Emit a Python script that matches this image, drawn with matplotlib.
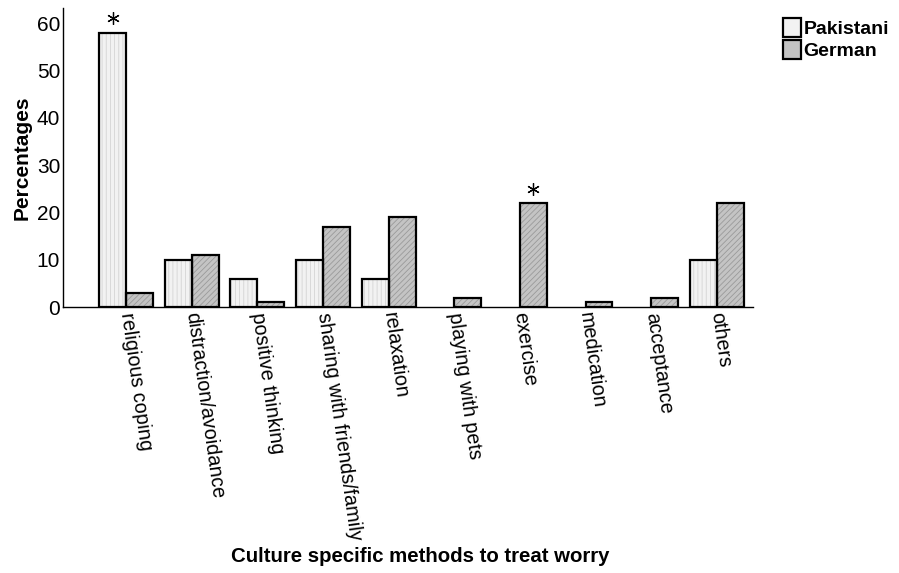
import numpy as np
import matplotlib
matplotlib.use("Agg")
import matplotlib.pyplot as plt
from matplotlib.patches import Patch

plt.rcParams['font.family'] = ['Liberation Sans', 'DejaVu Sans']
plt.rcParams['hatch.linewidth'] = 0.6

methods = ["religious coping", "distraction/avoidance", "positive thinking",
           "sharing with friends/family", "relaxation", "playing with pets",
           "exercise", "medication", "acceptance", "others"]
pakistani = [58, 10, 6, 10, 6, 0, 0, 0, 0, 10]
german = [3, 11, 1, 17, 19, 2, 22, 1, 2, 22]
significant = [("Pakistani", 0), ("German", 6)]

x = np.arange(len(methods))
w = 0.41
pk = np.array(pakistani)
de = np.array(german)

fig = plt.figure(figsize=(8.99, 5.73), dpi=100)
ax = fig.add_axes([0.070, 0.4642, 0.7676, 0.5218])

# fill with hatch first, black outlines on top (no outline for empty bars)
ax.bar(x - w / 2, pk, w, color="#f2f2f2", hatch="||||", edgecolor="#d4d4d4", linewidth=0)
ax.bar(x + w / 2, de, w, color="#c4c4c4", hatch="//////", edgecolor="#9a9a9a", linewidth=0)
ax.bar(x - w / 2, pk, w, fill=False, edgecolor="black",
       linewidth=np.where(pk > 0, 1.6, 0))
ax.bar(x + w / 2, de, w, fill=False, edgecolor="black",
       linewidth=np.where(de > 0, 1.6, 0))

for grp, i in significant:
    if grp == "Pakistani":
        ax.plot(x[i] - w / 2, pakistani[i] + 3, marker=(6, 2, 0), color="black",
                markersize=9, markeredgewidth=0.9)
    else:
        ax.plot(x[i] + w / 2, german[i] + 3, marker=(6, 2, 0), color="black",
                markersize=9, markeredgewidth=0.9)

ax.set_xlim(-0.96, 9.55)
ax.set_ylim(0, 63.2)
ax.set_yticks([0, 10, 20, 30, 40, 50, 60])
ax.tick_params(axis="y", length=0, labelsize=15, pad=2)
ax.set_xticks(x)
ax.set_xticklabels(methods, rotation=-82, ha="left", va="center",
                   rotation_mode="anchor", fontsize=14.3)
ax.tick_params(axis="x", length=0, pad=4)
for s in ["top", "right"]:
    ax.spines[s].set_visible(False)
ax.spines["left"].set_linewidth(1.0)
ax.spines["bottom"].set_linewidth(1.0)

ax.set_ylabel("Percentages", fontsize=15, fontweight="bold", labelpad=4)
fig.text(0.468, 0.028, "Culture specific methods to treat worry", ha="center",
         va="center", fontsize=14.7, fontweight="bold")

handles = [Patch(facecolor="#f2f2f2", edgecolor="black", linewidth=1.6),
           Patch(facecolor="#c4c4c4", edgecolor="black", linewidth=1.6)]
fig.legend(handles, ["Pakistani", "German"], loc="upper left",
           bbox_to_anchor=(0.860, 0.985), frameon=False, handlelength=0.95,
           handleheight=1.1, handletextpad=0.1, labelspacing=0.1,
           prop={"size": 14, "weight": "bold"}, borderpad=0)

fig.savefig("out.png", dpi=100)
